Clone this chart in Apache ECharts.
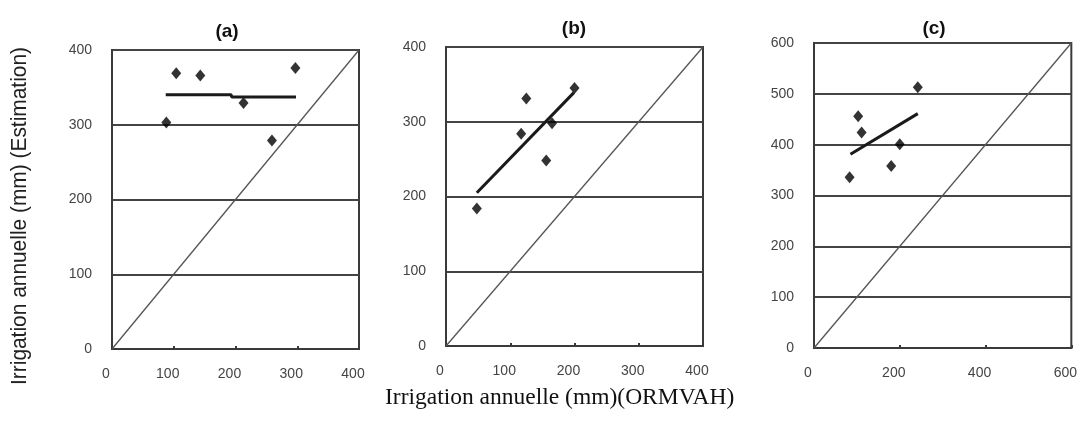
<!DOCTYPE html>
<html><head><meta charset="utf-8">
<script src="https://cdn.jsdelivr.net/npm/echarts@6/dist/echarts.min.js"></script>
<style>html,body{margin:0;padding:0;background:#fff}#c{width:1080px;height:434px}</style>
</head><body><div id="c"></div>
<script>
// Panel titles
const panelTitles = ['(a)', '(b)', '(c)'];
// Axis ranges (max) per panel
const xMax = [400, 400, 600];
const yMax = [400, 400, 600];
const xInterval = [100, 100, 200];
const yInterval = [100, 100, 100];
// Scatter points: [ORMVAH, Estimation]
const pointsA = [[88, 303], [104, 369], [143, 366], [213, 329], [259, 279], [297, 376]];
const pointsB = [[48, 184], [117, 284], [125, 331], [156, 248], [165, 298], [200, 345]];
const pointsC = [[83, 336], [103, 456], [111, 424], [180, 358], [200, 401], [242, 513]];
// Trend lines
const trendA = [[87, 340], [193, 340], [194, 337], [298, 337]];
const trendB = [[48, 205], [199, 339]];
const trendC = [[85, 381], [242, 461]];
// 1:1 lines
const diagA = [[0, 0], [400, 400]];
const diagB = [[0, 0], [400, 400]];
const diagC = [[0, 0], [600, 600]];
const yAxisTitle = 'Irrigation annuelle (mm) (Estimation)';
const xAxisTitle = 'Irrigation annuelle (mm)(ORMVAH)';

const points = [pointsA, pointsB, pointsC];
const trends = [trendA, trendB, trendC];
const diags = [diagA, diagB, diagC];

const grids = [
  {left: 112, top: 50, width: 247, height: 299},
  {left: 446, top: 47, width: 257, height: 299},
  {left: 814, top: 43, width: 258, height: 305}
];
const titleX = [222, 569, 929];
const titleY = [17, 14, 14];

const font = '"Liberation Sans", Arial, sans-serif';
const option = {
  animation: false,
  backgroundColor: '#fff',
  title: panelTitles.map((t, i) => ({
    text: t, left: titleX[i], top: titleY[i], textAlign: 'center',
    textStyle: {fontFamily: font, fontSize: 19, fontWeight: 'bold', color: '#111'}
  })),
  grid: grids.map(g => Object.assign({show: true, borderColor: '#3a3a3a', borderWidth: 2, backgroundColor: 'transparent'}, g)),
  xAxis: grids.map((g, i) => ({
    type: 'value', gridIndex: i, min: 0, max: xMax[i], interval: xInterval[i],
    axisLine: {show: true, lineStyle: {color: '#3a3a3a', width: 2}},
    axisTick: {show: true, inside: true, length: 3, lineStyle: {color: '#3a3a3a', width: 2}},
    splitLine: {show: false},
    axisLabel: {margin: 18, fontFamily: font, fontSize: 14, color: '#444', padding: [0, 12, 0, 0]}
  })),
  yAxis: grids.map((g, i) => ({
    type: 'value', gridIndex: i, min: 0, max: yMax[i], interval: yInterval[i],
    axisLine: {show: true, lineStyle: {color: '#3a3a3a', width: 2}},
    axisTick: {show: false},
    splitLine: {show: true, lineStyle: {color: '#444', width: 2}},
    axisLabel: {margin: 20, fontFamily: font, fontSize: 14, color: '#444'}
  })),
  series: [].concat(...[0, 1, 2].map(i => [
    {type: 'line', xAxisIndex: i, yAxisIndex: i, data: diags[i], symbol: 'none',
     lineStyle: {color: '#555', width: 1.3}, silent: true},
    {type: 'line', xAxisIndex: i, yAxisIndex: i, data: trends[i], symbol: 'none',
     lineStyle: {color: '#1a1a1a', width: 3}},
    {type: 'scatter', xAxisIndex: i, yAxisIndex: i, data: points[i], symbol: 'diamond',
     symbolSize: [10, 12], itemStyle: {color: '#000'}}
  ])),
  graphic: [
    {type: 'text', left: 9, top: 47, rotation: Math.PI / 2, scaleX: 0.95,
     style: {text: yAxisTitle, font: '22px "Liberation Sans", Arial, sans-serif', fill: '#222'}},
    {type: 'text', left: 385, top: 386,
     style: {text: xAxisTitle, font: '23.5px "Liberation Serif", "Times New Roman", serif', fill: '#111'}}
  ]
};
const chart = echarts.init(document.getElementById('c'));
chart.setOption(option);
</script></body></html>
